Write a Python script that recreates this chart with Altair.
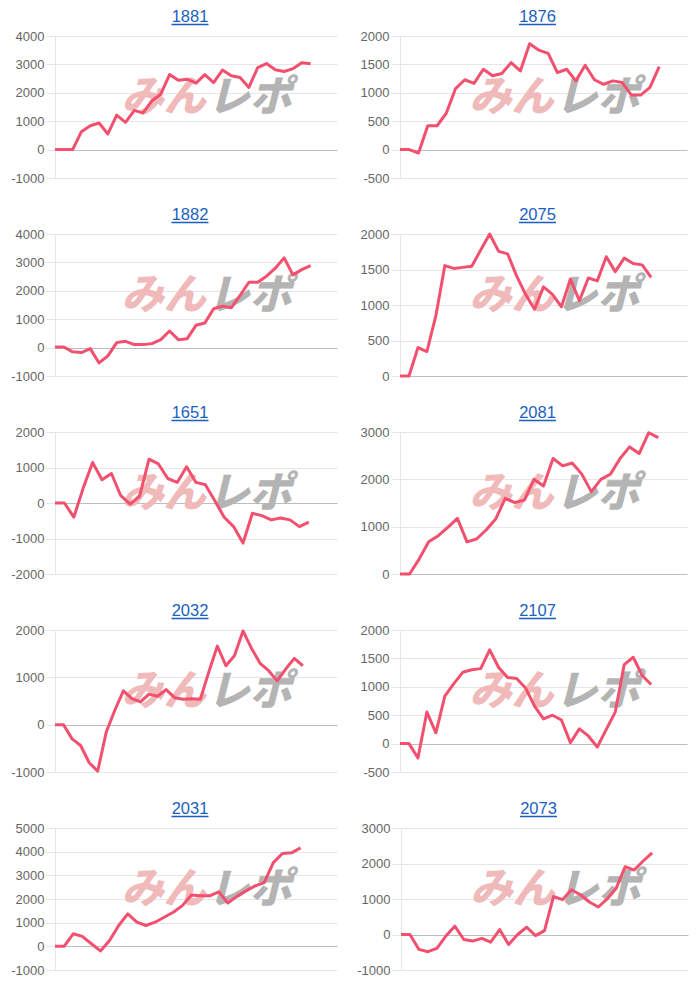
import altair as alt
import pandas as pd

# ---- data ----
titles = ["1881", "1876", "1882", "2075", "1651", "2081", "2032", "2107", "2031", "2073"]

s1881 = [0, 0, 0, 630, 840, 935, 550, 1215, 960, 1380, 1290, 1720, 1950, 2640, 2445,
         2480, 2340, 2640, 2360, 2800, 2600, 2540, 2190, 2890, 3030, 2810, 2750, 2850, 3060, 3020]
s1876 = [0, 0, -60, 420, 420, 640, 1075, 1230, 1165, 1415, 1300, 1340, 1530, 1385, 1865,
         1750, 1695, 1355, 1415, 1210, 1485, 1230, 1150, 1210, 1180, 960, 960, 1095, 1460]
s1882 = [20, 20, -150, -175, -35, -540, -290, 175, 220, 105, 105, 140, 280, 585, 280,
         315, 785, 865, 1370, 1460, 1400, 1835, 2300, 2300, 2515, 2795, 3160, 2560, 2745, 2890]
s2075 = [0, 0, 400, 345, 850, 1555, 1515, 1530, 1545, 1775, 2000, 1755, 1720, 1410, 1150,
         940, 1255, 1150, 975, 1365, 1060, 1380, 1340, 1680, 1470, 1660, 1585, 1565, 1390]
s1651 = [0, 0, -400, 420, 1140, 655, 830, 205, -30, 190, 1235, 1100, 690, 580, 1020,
         580, 515, 65, -400, -665, -1130, -290, -355, -475, -420, -475, -665, -540]
s2081 = [0, 0, 315, 680, 810, 985, 1175, 680, 740, 930, 1160, 1600, 1510, 1560, 2000,
         1860, 2440, 2285, 2345, 2110, 1740, 2000, 2110, 2440, 2685, 2545, 2985, 2880]
s2032 = [0, 0, -300, -440, -805, -980, -155, 305, 715, 550, 480, 645, 600, 740, 570,
         535, 550, 535, 1115, 1660, 1245, 1455, 1980, 1610, 1295, 1140, 925, 1175, 1400, 1245]
s2107 = [0, 0, -255, 555, 190, 835, 1055, 1255, 1300, 1320, 1650, 1340, 1165, 1145, 980,
         660, 435, 500, 415, 15, 260, 135, -60, 250, 555, 1390, 1520, 1200, 1040]
s2031 = [0, 0, 530, 420, 110, -195, 250, 880, 1370, 1020, 880, 1020, 1230, 1440, 1720,
         2165, 2135, 2135, 2300, 1830, 2110, 2345, 2555, 2695, 3535, 3925, 3950, 4160]
s2073 = [0, 0, -420, -485, -390, -45, 235, -140, -185, -110, -215, 140, -280, 0, 205,
         -30, 110, 1070, 980, 1260, 1120, 915, 775, 1005, 1305, 1910, 1815, 2070, 2300]

series = [s1881, s1876, s1882, s2075, s1651, s2081, s2032, s2107, s2031, s2073]

y_min = [-1000, -500, -1000, 0, -2000, 0, -1000, -500, -1000, -1000]
y_max = [4000, 2000, 4000, 2000, 2000, 3000, 2000, 2000, 5000, 3000]
y_step = [1000, 500, 1000, 500, 1000, 1000, 1000, 500, 1000, 1000]
# number of category slots on the (hidden) x axis of each panel
x_slots = [32, 31, 32, 32, 30, 30, 33, 32, 31, 32]

LINE = "#f2506e"
GRID = "#e6e6e6"
ZERO = "#bdbdbd"
LABEL = "#666666"
TITLE = "#1a5fbf"
PINK = "#f0baba"
GRAY = "#b4b4b4"

H = 142


def panel(i, w):
    vals = series[i]
    df = pd.DataFrame({"day": list(range(len(vals))), "value": vals})
    ticks = list(range(y_min[i], y_max[i] + 1, y_step[i]))
    xs = alt.Scale(domain=[0, x_slots[i]], nice=False, zero=False)
    ys = alt.Scale(domain=[y_min[i], y_max[i]], nice=False, zero=False)
    yaxis = alt.Axis(values=ticks, title=None, grid=True,
                     gridColor=alt.condition("datum.value === 0", alt.value(ZERO), alt.value(GRID)),
                     labelOverlap=False, labelFlush=False, labelBound=False,
                     labelExpr="'' + datum.value")

    line = alt.Chart(df).mark_line(color=LINE, strokeWidth=3, strokeJoin="round").encode(
        x=alt.X("day:Q", scale=xs, axis=None),
        y=alt.Y("value:Q", scale=ys, axis=yaxis),
    )

    one = pd.DataFrame({"t": [titles[i]], "a": ["みん"], "b": ["レポ"]})
    base = alt.Chart(one)

    wm_cx = w * 0.535
    wm_y = H * 0.44
    wm1 = base.mark_text(font="Noto Sans CJK JP", fontSize=42, fontWeight=900,
                         fontStyle="italic", color=PINK, align="right",
                         baseline="middle").encode(
        text="a:N", x=alt.value(wm_cx), y=alt.value(wm_y))
    wm2 = base.mark_text(font="Noto Sans CJK JP", fontSize=42, fontWeight=900,
                         fontStyle="italic", color=GRAY, align="left",
                         baseline="middle").encode(
        text="b:N", x=alt.value(wm_cx + 2), y=alt.value(wm_y))

    c = w / 2 - 6
    ttl = base.mark_text(font="Liberation Sans", fontSize=16.5, color=TITLE,
                         align="center", baseline="alphabetic").encode(
        text="t:N", x=alt.value(c), y=alt.value(-14))
    ul = base.mark_rule(color=TITLE, strokeWidth=1.3).encode(
        x=alt.value(c - 18.5), x2=alt.value(c + 18.5), y=alt.value(-11.5))

    return alt.layer(wm1, wm2, line, ttl, ul).properties(width=w, height=H)


rows = []
for r in range(5):
    rows.append(alt.hconcat(panel(2 * r, 282), panel(2 * r + 1, 287), spacing=19))

chart = alt.vconcat(*rows, spacing=22).properties(
    padding={"left": 10, "top": 9, "right": 5, "bottom": 5},
    background="white",
).configure_view(stroke=None).configure_axisY(
    gridWidth=1, tickSize=9, tickColor=GRID, domainColor=GRID, labelColor=LABEL,
    labelFont="Liberation Sans", labelFontSize=13, labelPadding=2,
    labelOverlap=False, labelFlush=False, labelBound=False,
    minExtent=44, maxExtent=44,
)

chart.save("out.html", embed_options={"renderer": "svg", "actions": False})
